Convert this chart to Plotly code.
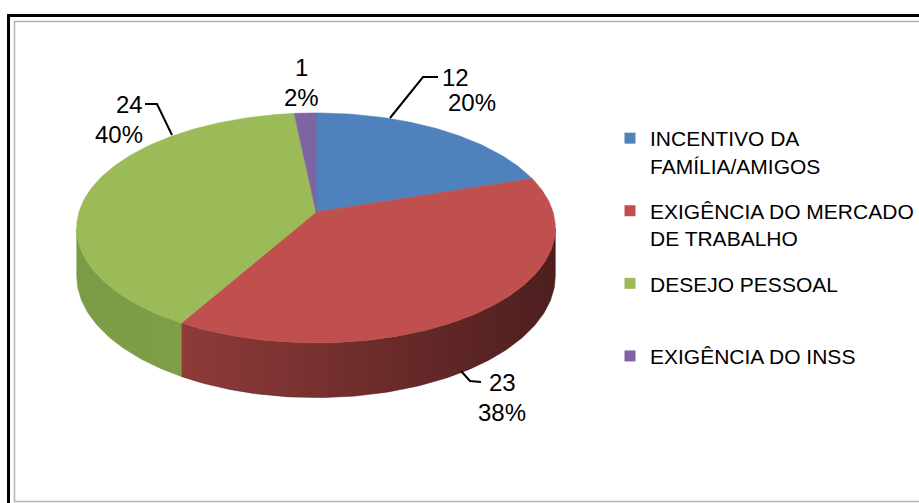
import math
import plotly.graph_objects as go

# ---- data ----
categories = ["INCENTIVO DA<br>FAMÍLIA/AMIGOS", "EXIGÊNCIA DO MERCADO<br>DE TRABALHO",
              "DESEJO PESSOAL<br> ", "EXIGÊNCIA DO INSS"]
values = [12, 23, 24, 1]
colors = ["#4F81BD", "#C0504D", "#9BBB59", "#8064A2"]
side_grad = [("#5A7FAE", "#2E4A70"), ("#8E3B39", "#4E1E1E"), ("#7C9B46", "#7E9E48"), ("#6A5289", "#4A3A60")]

# ---- geometry (layout, page pixels) ----
W, H = 919, 503
CX, CY = 316, 212            # centre of the top face (vertex)
R, RY, K = 237, 112.8, 0.139 # radius, vertical radius, perspective factor
DEPTH = 47
FONT = "Liberation Sans"

total = sum(values)
pcts = [round(100 * v / total) for v in values]

def pt(theta, side=False):
    t = math.radians(theta)
    s = 1.0 / (1.0 + K * math.cos(t))
    x = CX + R * math.sin(t) * s
    y = CY - RY * math.cos(t) * s + (DEPTH * s if side else 0)
    return x, y

fig = go.Figure()

bounds = []
acc = 0
for v in values:
    a0 = 360 * acc / total
    acc += v
    a1 = 360 * acc / total
    bounds.append((a0, a1))

def arc(a0, a1, side=False):
    n = max(2, int(abs(a1 - a0) / 1.0) + 2)
    return [pt(a0 + (a1 - a0) * i / (n - 1), side) for i in range(n)]

# silhouette of the cylinder
edge = math.degrees(math.acos(-K))
front0, front1 = edge, 360 - edge

# side walls (front only)
for i, (a0, a1) in enumerate(bounds):
    s0, s1 = max(a0, front0), min(a1, front1)
    if s1 <= s0:
        continue
    top = arc(s0, s1)
    bot = arc(s1, s0, True)
    pts = top + bot + [top[0]]
    fig.add_trace(go.Scatter(
        x=[p[0] for p in pts], y=[p[1] for p in pts], mode="lines", fill="toself",
        line=dict(width=0.5, color=side_grad[i][1]),
        fillgradient=dict(type="horizontal",
                          colorscale=[[0, side_grad[i][0]], [1, side_grad[i][1]]]),
        hoverinfo="skip", showlegend=False))

# top faces
for i, (a0, a1) in enumerate(bounds):
    pts = [(CX, CY)] + arc(a0, a1) + [(CX, CY)]
    fig.add_trace(go.Scatter(
        x=[p[0] for p in pts], y=[p[1] for p in pts], mode="lines", fill="toself",
        fillcolor=colors[i], line=dict(width=0.6, color=colors[i]),
        hoverinfo="skip", showlegend=False))

# legend entries
for i, name in enumerate(categories):
    fig.add_trace(go.Scatter(
        x=[None], y=[None], mode="markers", name=name,
        marker=dict(symbol="square", size=11, color=colors[i]),
        legendgroup=str(i), showlegend=True))

# data labels with leader lines
label_pos = [  # (x, y_value, y_pct, anchor)
    (440, 77, 102, "left"),
    (502, 382, 412, "center"),
    (145, 104, 134, "right"),
    (301, 67, 97, "center"),
]
leaders = [
    [(390, 118), (423, 77), (438, 77)],
    [(461, 371), (470, 381), (481, 382)],
    [(172, 135), (157, 104), (145, 104)],
    None,
]
for i, v in enumerate(values):
    x, yv, yp, anc = label_pos[i]
    fig.add_annotation(x=x, y=yv, text=str(v), showarrow=False, xanchor=anc, yanchor="middle",
                       font=dict(family=FONT, size=24, color="black"))
    fig.add_annotation(x=x + (6 if anc == "left" else 0), y=yp, text=f"{pcts[i]}%", showarrow=False,
                       xanchor=anc, yanchor="middle",
                       font=dict(family=FONT, size=24, color="black"))
    if leaders[i]:
        fig.add_trace(go.Scatter(x=[p[0] for p in leaders[i]], y=[p[1] for p in leaders[i]],
                                 mode="lines", line=dict(color="black", width=2),
                                 hoverinfo="skip", showlegend=False))

# borders
fig.add_shape(type="rect", xref="x", yref="y", x0=8.5, y0=15.5, x1=960, y1=540,
              line=dict(color="black", width=3))
fig.add_shape(type="rect", xref="x", yref="y", x0=14.5, y0=21.5, x1=940, y1=501.5,
              line=dict(color="#B4B4B4", width=1.5))

fig.update_layout(
    width=W, height=H, margin=dict(l=0, r=0, t=0, b=0),
    paper_bgcolor="white", plot_bgcolor="white",
    xaxis=dict(range=[0, W], visible=False, fixedrange=True),
    yaxis=dict(range=[H, 0], visible=False, fixedrange=True),
    showlegend=True,
    legend=dict(x=610 / W, y=1 - 118 / H, xanchor="left", yanchor="top",
                font=dict(family=FONT, size=21, color="black"),
                valign="top", tracegroupgap=15, bgcolor="rgba(0,0,0,0)",
                itemclick=False, itemdoubleclick=False),
)

fig.write_html("out.html", config={"displayModeBar": False},
               post_script="document.body.style.margin='0';document.body.style.overflow='hidden';")
